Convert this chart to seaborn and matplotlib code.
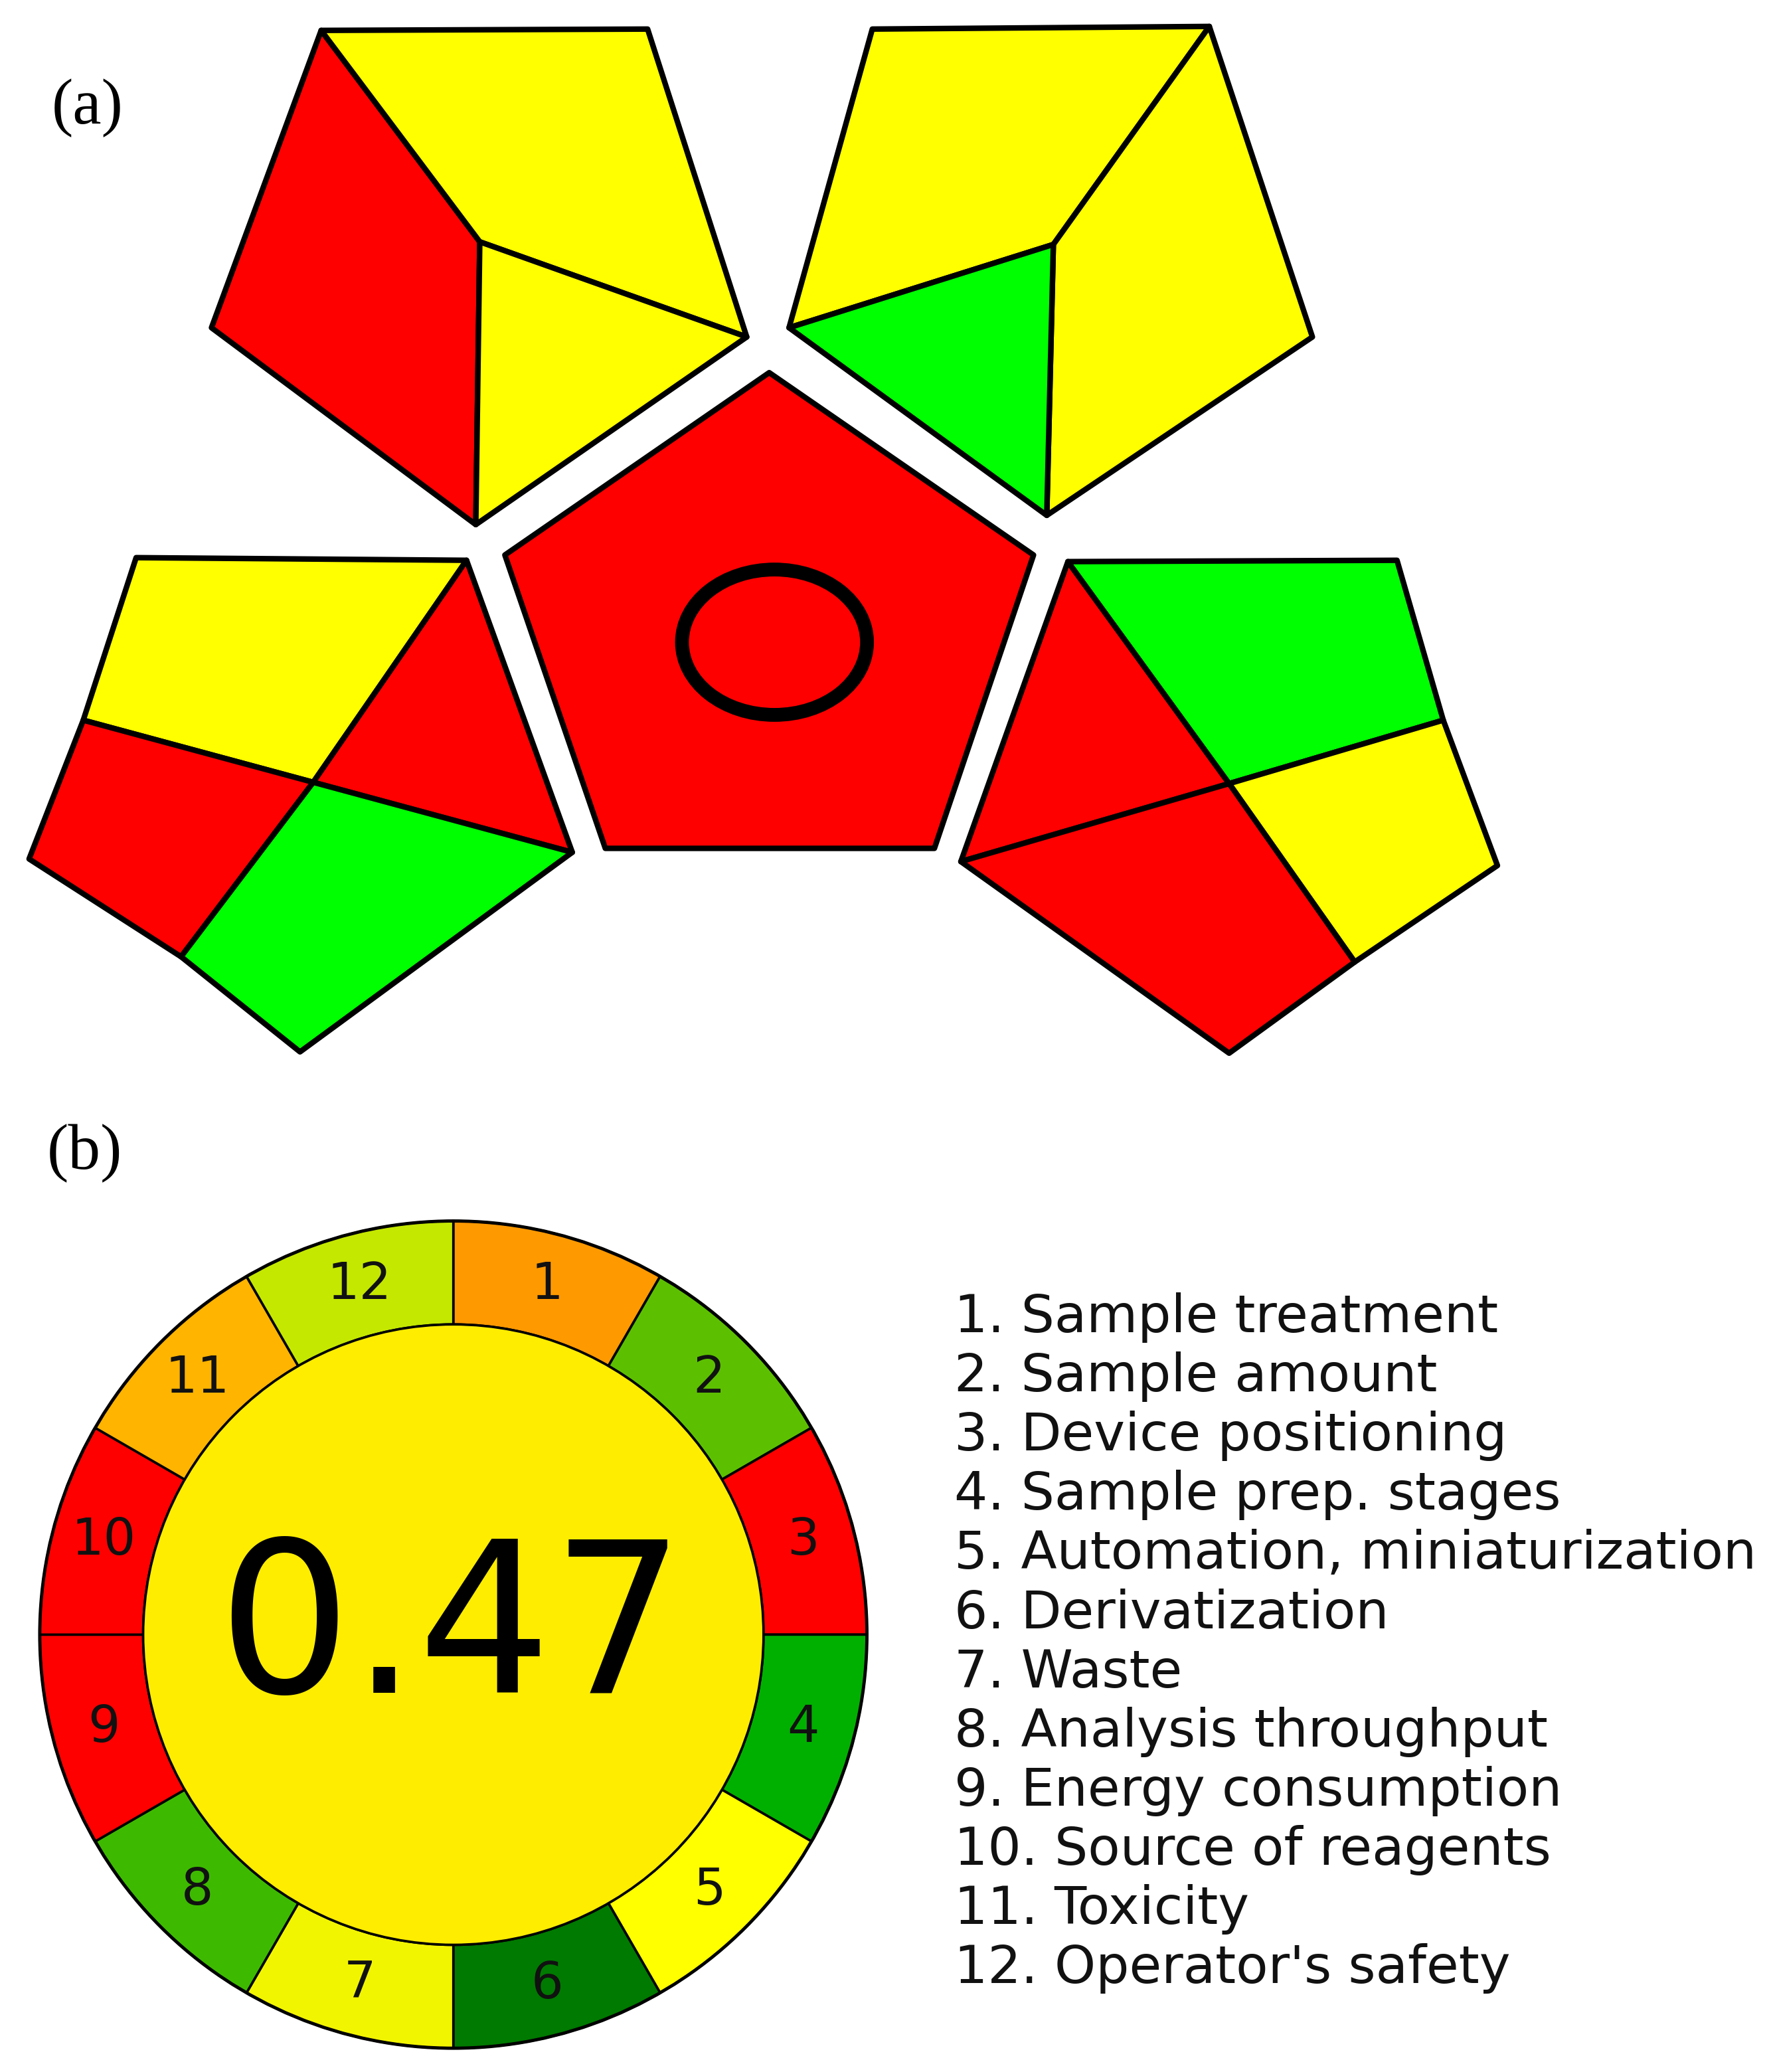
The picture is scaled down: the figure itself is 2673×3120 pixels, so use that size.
import matplotlib
matplotlib.use("Agg")
import matplotlib.pyplot as plt
from matplotlib.patches import Polygon, Ellipse, Circle
import numpy as np
import seaborn as sns

sns.set_theme(style="white")
plt.rcParams['font.family'] = ['DejaVu Sans']

# ---- (a) GAPI pictogram: colour of every field (R / Y / G) ----
gapi_colors = {'R': '#ff0000', 'Y': '#ffff00', 'G': '#00ff00'}
gapi_top_left = ['R', 'Y', 'Y']
gapi_top_right = ['Y', 'Y', 'G']
gapi_center = ['R']
gapi_bottom_left = ['Y', 'R', 'R', 'G']
gapi_bottom_right = ['R', 'G', 'Y', 'R']

# ---- (b) AGREE wheel ----
agree_criteria = ['Sample treatment', 'Sample amount', 'Device positioning',
                  'Sample prep. stages', 'Automation, miniaturization',
                  'Derivatization', 'Waste', 'Analysis throughput',
                  'Energy consumption', 'Source of reagents', 'Toxicity',
                  "Operator's safety"]
agree_colors = ['#ff9900', '#5cc000', '#ff0000', '#00b000', '#ffff00', '#007a00',
                '#f2f500', '#3dba00', '#ff0000', '#ff0000', '#ffb400', '#c5e800']
agree_score = 0.47
agree_score_color = '#ffed00'

# layout of the GAPI fields (reference pixel grid 1343 x 1568, y down)
shapes_top_left = [
    [(243, 23), (363, 183), (360, 397), (160, 248)],
    [(243, 23), (490, 22), (565, 255), (363, 183)],
    [(363, 183), (565, 255), (360, 397)],
]
shapes_top_right = [
    [(660, 22), (915, 20), (797, 185), (597, 248)],
    [(915, 20), (993, 255), (792, 390), (797, 185)],
    [(597, 248), (797, 185), (792, 390)],
]
shapes_center = [
    [(582, 282), (782, 420), (707, 642), (458, 642), (382, 420)],
]
shapes_bottom_left = [
    [(103, 422), (353, 424), (237, 592), (63, 545)],
    [(353, 424), (433, 645), (237, 592)],
    [(63, 545), (237, 592), (137, 724), (22, 650)],
    [(237, 592), (433, 645), (227, 796), (137, 724)],
]
shapes_bottom_right = [
    [(808, 425), (930, 593), (727, 652)],
    [(808, 425), (1057, 424), (1092, 545), (930, 593)],
    [(930, 593), (1092, 545), (1133, 655), (1025, 728)],
    [(727, 652), (930, 593), (1025, 728), (930, 797)],
]

W, H = 1343, 1568
fig = plt.figure(figsize=(26.73, 31.20), dpi=100)
ax = fig.add_axes([0, 0, 1, 1])
ax.set_xlim(0, W)
ax.set_ylim(H, 0)
ax.axis('off')

for shapes, cols in [(shapes_top_left, gapi_top_left),
                     (shapes_top_right, gapi_top_right),
                     (shapes_center, gapi_center),
                     (shapes_bottom_left, gapi_bottom_left),
                     (shapes_bottom_right, gapi_bottom_right)]:
    for pts, c in zip(shapes, cols):
        ax.add_patch(Polygon(pts, closed=True, facecolor=gapi_colors[c],
                             edgecolor='black', linewidth=6, joinstyle='round'))

ax.add_patch(Ellipse((586, 486), 140, 110, facecolor='none',
                     edgecolor='black', linewidth=15))

ax.text(66, 82, '(a)', fontsize=70, family='Liberation Serif', ha='center',
        va='center', color='black')
ax.text(64, 873, '(b)', fontsize=70, family='Liberation Serif', ha='center',
        va='center', color='black')

# legend of the criteria
for i, name in enumerate(agree_criteria):
    ax.text(722, 997 + i * 44.8, f'{i + 1}. {name}', fontsize=57,
            ha='left', va='center', color='#111111')

# AGREE wheel in its own square axes
cx, cy, R, M = 343, 1237, 313, 320
axw = fig.add_axes([(cx - M) / W, 1 - (cy + M) / H, 2 * M / W, 2 * M / H])
axw.pie([1] * len(agree_colors), colors=agree_colors, startangle=90,
        counterclock=False, radius=1,
        wedgeprops=dict(width=0.25, edgecolor='black', linewidth=2.6))
axw.add_patch(Circle((0, 0), 0.75, facecolor=agree_score_color,
                     edgecolor='black', linewidth=2.6))
axw.add_patch(Circle((0, 0), 1.0, facecolor='none', edgecolor='black',
                     linewidth=3.5))
axw.set_xlim(-M / R, M / R)
axw.set_ylim(-M / R, M / R)
axw.set_aspect('equal')
axw.axis('off')
n = len(agree_colors)
for i in range(n):
    ang = np.deg2rad(90 - 360 / n * (i + 0.5))
    axw.text(0.875 * np.cos(ang), 0.875 * np.sin(ang), str(i + 1), fontsize=55,
             ha='center', va='center', color='#111111')
axw.text(-0.005, 0.0, f'{agree_score:.2f}', fontsize=228, ha='center',
         va='center', color='black')

fig.savefig('out.png', dpi=100, facecolor='white')
